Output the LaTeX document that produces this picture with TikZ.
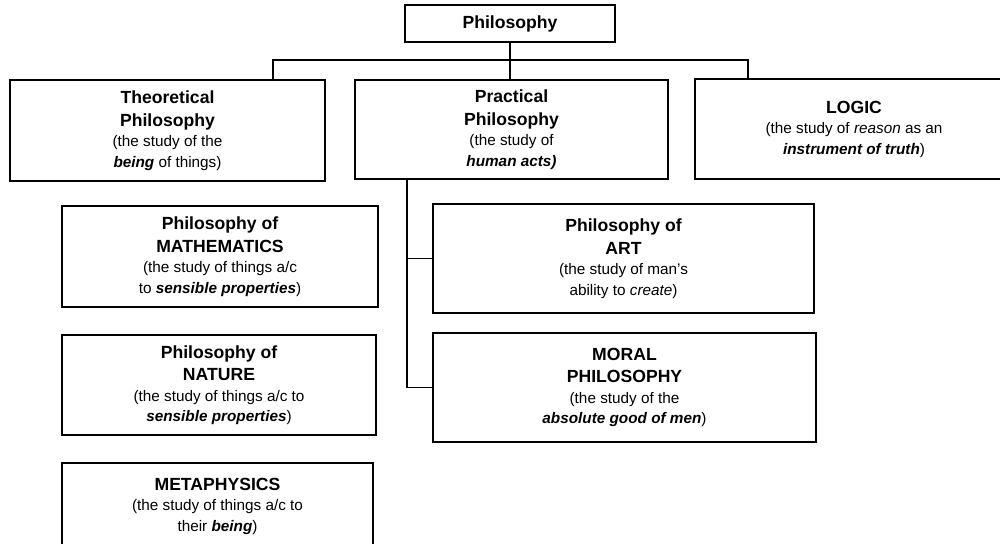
\documentclass[tikz,border=0pt]{standalone}
\usepackage{fontspec}
\setmainfont{Liberation Sans}
\usepackage{tikz}
\usetikzlibrary{positioning}

\newcommand{\hd}[1]{{\fontsize{17.6}{22}\selectfont\bfseries #1}}
\newcommand{\bi}[1]{\textbf{\textit{#1}}}

\begin{document}
\begin{tikzpicture}[x=1pt, y=-1pt,
    box/.style={draw, line width=1.4pt, align=center, inner sep=0pt,
                font=\fontsize{15.3}{20.5}\selectfont},
    link/.style={line width=1.4pt}]
        \useasboundingbox (0,0) rectangle (1000,543);

        % Root
        \node[box, minimum width=210pt, minimum height=37pt] (phil) at (510,23.5) {\hd{Philosophy}};

        % Main branches
        \node[box, minimum width=315pt, minimum height=101pt] (theo) at (167.5,130.5)
            {\hd{Theoretical}\\[2pt]\hd{Philosophy}\\(the study of the\\\bi{being} of things)};
        \node[box, minimum width=313pt, minimum height=99pt] (prac) at (511.5,129.5)
            {\hd{Practical}\\[2pt]\hd{Philosophy}\\(the study of\\\bi{human acts)}};
        \node[box, minimum width=318pt, minimum height=100pt] (logic) at (854,129)
            {\hd{LOGIC}\\(the study of \textit{reason} as an\\\bi{instrument of truth})};

        % Theoretical side
        \node[box, minimum width=316pt, minimum height=101pt] (math) at (220,256.5)
            {\hd{Philosophy of}\\[2pt]\hd{MATHEMATICS}\\(the study of things a/c\\to \bi{sensible properties})};
        \node[box, minimum width=314pt, minimum height=100pt] (nature) at (219,385)
            {\hd{Philosophy of}\\[2pt]\hd{NATURE}\\(the study of things a/c to\\\bi{sensible properties})};
        \node[box, minimum width=311pt, minimum height=86pt] (meta) at (217.5,506)
            {\hd{METAPHYSICS}\\(the study of things a/c to\\their \bi{being})};

        % Practical side
        \node[box, minimum width=381pt, minimum height=109pt] (art) at (623.5,258.5)
            {\hd{Philosophy of}\\[2pt]\hd{ART}\\(the study of man's\\ability to \textit{create})};
        \node[box, minimum width=383pt, minimum height=109pt] (moral) at (624.5,387.5)
            {\hd{MORAL}\\[2pt]\hd{PHILOSOPHY}\\(the study of the\\\bi{absolute good of men})};

        % Connectors
        \coordinate (busL) at (273,60);
        \coordinate (busR) at (748,60);
        \coordinate (spine) at (407,179);
        \draw[link] (phil.south) -- (phil.south |- prac.north);
        \draw[link] (busL |- theo.north) -- (busL) -- (busR) -- (busR |- logic.north);
        \draw[link] (spine) |- (moral.west);
        \draw[link] (spine |- art.west) -- (art.west);
    \end{tikzpicture}
\end{document}
